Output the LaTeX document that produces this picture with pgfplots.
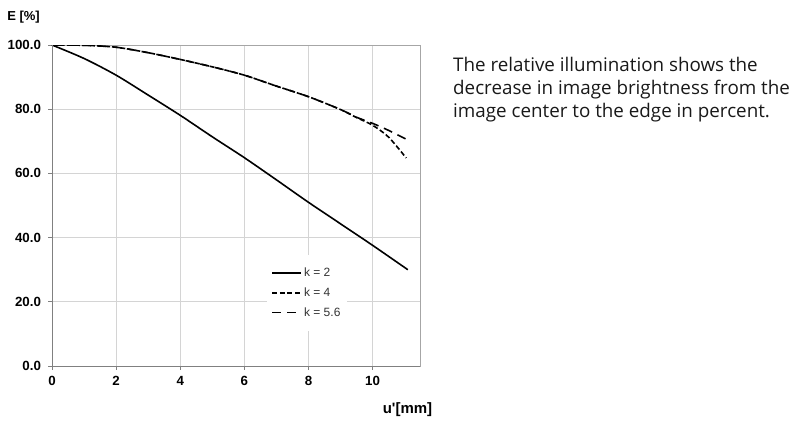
\documentclass[border=0pt]{standalone}
\usepackage{fontspec}
\setmainfont{Liberation Sans}
\newfontfamily\descfont{Open Sans}
\usepackage{pgfplots}
\pgfplotsset{compat=1.18}
\begin{document}
\begin{tikzpicture}[x=1pt,y=1pt]
\path[use as bounding box] (-52,-58) rectangle (748,366);
\begin{axis}[at={(0,0)}, anchor=south west, scale only axis,
  width=368pt, height=321pt,
  xmin=0, xmax=11.48, ymin=0, ymax=100,
  xtick={0,2,4,6,8,10}, ytick={0,20,40,60,80,100},
  grid=major, major grid style={draw=black!17, line width=0.8pt},
  axis line style={draw=black!35, line width=0.9pt},
  tick align=outside, xtick pos=bottom, ytick pos=left,
  major tick length=3.5pt, tick style={draw=black!50, line width=0.8pt},
  /pgf/number format/assume math mode=true,
  ticklabel style={font=\bfseries\fontsize{13.3}{15}\selectfont},
  xticklabel style={yshift=-3.5pt},
  yticklabel style={xshift=-4pt},
  yticklabel={\pgfmathprintnumber[fixed,fixed zerofill,precision=1]{\tick}},
  legend style={at={(axis cs:6.7,34.6)}, anchor=north west, draw=none, fill=white,
    font=\fontsize{12}{14}\selectfont, text=black!80, row sep=5.5pt,
    inner xsep=4.5pt, inner ysep=11pt},
  legend cell align=left,
  legend image code/.code={\draw[#1] (0pt,0pt) -- (29pt,0pt);},
]
\addplot[black, line width=1.6pt, smooth] coordinates {(0,100)(1,95.8)(2,90.6)(3,84.4)(4,78.1)(5,71.4)(6,64.9)(7,58.0)(8,51.0)(9,44.3)(10,37.6)(11.1,30.0)};
\addlegendentry{k = 2}
\addplot[black, line width=1.6pt, smooth, dash pattern=on 5pt off 2.6pt] coordinates {(0,100)(1,99.9)(2,99.3)(3,97.6)(4,95.5)(5,93.2)(6,90.6)(7,87.2)(8,83.9)(9,79.9)(9.5,77.4)(10,75.0)(10.5,71.3)(11.05,64.8)};
\addlegendentry{k = 4}
\addplot[black, line width=1.6pt, smooth, dash pattern=on 9pt off 6pt] coordinates {(0,100)(1,99.9)(2,99.3)(3,97.6)(4,95.5)(5,93.2)(6,90.6)(7,87.2)(8,83.9)(9,79.9)(9.5,77.5)(10,75.6)(10.5,73.4)(11.1,70.4)};
\addlegendentry{k = 5.6}
\draw[black!50, line width=0.9pt] (rel axis cs:0,1) -- (rel axis cs:0,0) -- (rel axis cs:1,0);
\end{axis}
\node[font=\bfseries\fontsize{13}{15}\selectfont] at (-28.5,349) {E [\%]};
\node[font=\bfseries\fontsize{15}{17}\selectfont] at (355.5,-44) {u\textquotesingle[mm]};
\node[anchor=base west, inner sep=0pt, align=left, text=black!90,
  font=\descfont\fontsize{18.8}{23}\selectfont] at (401,249)
  {The relative illumination shows the\\decrease in image brightness from the\\image center to the edge in percent.};
\end{tikzpicture}
\end{document}
